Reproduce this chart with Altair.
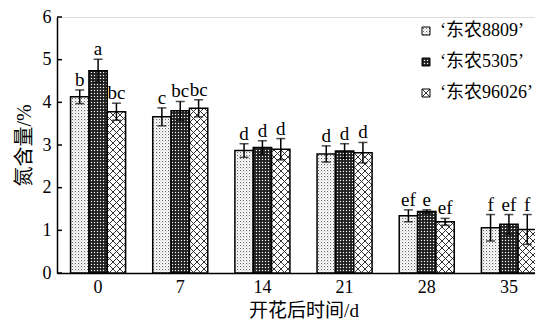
import altair as alt
import pandas as pd
import jinja2

times = ["0", "7", "14", "21", "28", "35"]
cultivars = ["‘东农8809’", "‘东农5305’", "‘东农96026’"]
v8809 = [4.13, 3.66, 2.87, 2.79, 1.34, 1.06]
v5305 = [4.74, 3.80, 2.94, 2.86, 1.44, 1.14]
v96026 = [3.78, 3.86, 2.90, 2.82, 1.20, 1.02]
e8809 = [0.16, 0.21, 0.16, 0.19, 0.14, 0.31]
e5305 = [0.27, 0.22, 0.16, 0.17, 0.04, 0.23]
e96026 = [0.20, 0.20, 0.25, 0.24, 0.08, 0.35]
l8809 = ["b", "c", "d", "d", "ef", "f"]
l5305 = ["a", "bc", "d", "d", "e", "ef"]
l96026 = ["bc", "bc", "d", "d", "ef", "f"]
y_ticks = [0, 1, 2, 3, 4, 5, 6]

rows = []
for c, vals, errs, labs in zip(cultivars, [v8809, v5305, v96026],
                               [e8809, e5305, e96026], [l8809, l5305, l96026]):
    for t, v, e, l in zip(times, vals, errs, labs):
        rows.append({"time": t, "cultivar": c, "value": v, "err": e, "label": l})
df = pd.DataFrame(rows)
df["lo"] = df["value"] - df["err"]
df["hi"] = df["value"] + df["err"]

FONT = "Liberation Serif"
CJK_FONT = "Liberation Serif, Noto Sans CJK SC"

xenc = alt.X("time:N", sort=times,
             scale=alt.Scale(range=[0, 493], paddingInner=0.33, paddingOuter=0.165),
             axis=alt.Axis(title="开花后时间/d", labelAngle=0, ticks=False,
                           labelPadding=5, titlePadding=5, domainColor="black",
                           domainWidth=1.5, labelColor="black", titleColor="black",
                           labelFontSize=18, titleFontSize=19, titleFontWeight="normal",
                           labelFont=FONT, titleFont=CJK_FONT))
yscale = alt.Scale(domain=[0, 6], nice=False)
xoff = alt.XOffset("cultivar:N", sort=cultivars)

color = alt.Color("cultivar:N", sort=cultivars,
                  scale=alt.Scale(domain=cultivars, range=["url(#p1)", "url(#p2)", "url(#p3)"]),
                  legend=alt.Legend(title=None, orient="none", legendX=360, legendY=5,
                                    symbolType="square", symbolSize=64,
                                    symbolStrokeColor="black", symbolStrokeWidth=1,
                                    labelFontSize=18, labelFont=CJK_FONT, labelColor="black",
                                    labelOffset=5, rowPadding=13, padding=0,
                                    labelLimit=200))

bars = alt.Chart(df).mark_bar(stroke="black", strokeWidth=1.5).encode(
    x=xenc,
    xOffset=xoff,
    y=alt.Y("value:Q", scale=yscale,
            axis=alt.Axis(title="氮含量/%", values=y_ticks, ticks=False, grid=False,
                          labelPadding=6, titlePadding=8, domainColor="black",
                          domainWidth=1.5, labelColor="black", titleColor="black",
                          labelFontSize=18, titleFontSize=20, titleFontWeight="normal",
                          labelFont=FONT, titleFont=CJK_FONT)),
    fill=color,
)

err_rule = alt.Chart(df).mark_rule(color="black", strokeWidth=1.5).encode(
    x=xenc, xOffset=xoff, y=alt.Y("lo:Q", scale=yscale), y2="hi:Q")
err_cap_hi = alt.Chart(df).mark_tick(color="black", thickness=1.5, size=9).encode(
    x=xenc, xOffset=xoff, y=alt.Y("hi:Q", scale=yscale))
err_cap_lo = alt.Chart(df).mark_tick(color="black", thickness=1.5, size=9).encode(
    x=xenc, xOffset=xoff, y=alt.Y("lo:Q", scale=yscale))
letters = alt.Chart(df).mark_text(baseline="bottom", dy=0, fontSize=19, font=FONT,
                                  color="black").encode(
    x=xenc, xOffset=xoff, y=alt.Y("hi:Q", scale=yscale), text="label:N")

tick_df = pd.DataFrame({"t": y_ticks})
yticks = alt.Chart(tick_df).mark_rule(color="black", strokeWidth=1.5).encode(
    y=alt.Y("t:Q", scale=yscale), x=alt.value(0), x2=alt.value(5))

chart = alt.layer(bars, err_rule, err_cap_hi, err_cap_lo, letters, yticks).properties(
    width=486, height=256,
    autosize=alt.AutoSizeParams(type="none"),
    padding={"left": 49, "top": 9, "right": 0, "bottom": 50},
).configure_view(stroke=None).configure(background="white")

TEMPLATE = jinja2.Template("""<!DOCTYPE html>
<html>
<head>
  <meta charset="utf-8">
  <script type="text/javascript" src="{{ base_url }}/vega@{{ vega_version }}"></script>
  <script type="text/javascript" src="{{ base_url }}/vega-lite@{{ vegalite_version }}"></script>
  <script type="text/javascript" src="{{ base_url }}/vega-embed@{{ vegaembed_version }}"></script>
</head>
<body>
  <svg width="0" height="0" style="position:absolute;left:0;top:0">
    <defs>
      <pattern id="p1" patternUnits="userSpaceOnUse" width="3" height="3">
        <rect width="3" height="3" fill="#ffffff"/>
        <rect x="0" y="0" width="1.1" height="1.1" fill="#666666"/>
        <rect x="1.5" y="1.5" width="0.9" height="0.9" fill="#999999"/>
      </pattern>
      <pattern id="p2" patternUnits="userSpaceOnUse" width="3" height="3">
        <rect width="3" height="3" fill="#1e1e1e"/>
        <rect x="0.9" y="0.9" width="1.2" height="1.2" fill="#ffffff"/>
      </pattern>
      <pattern id="p3" patternUnits="userSpaceOnUse" width="7" height="7">
        <rect width="7" height="7" fill="#ffffff"/>
        <path d="M0,0 L7,7 M7,0 L0,7" stroke="#333333" stroke-width="1"/>
      </pattern>
    </defs>
  </svg>
  <div id="{{ output_div }}"></div>
  <script type="text/javascript">
    vegaEmbed("#{{ output_div }}", {{ spec }}, {{ embed_options }}).catch(console.error);
  </script>
</body>
</html>""")

chart.save("out.html", embed_options={"renderer": "svg", "actions": False}, template=TEMPLATE)
